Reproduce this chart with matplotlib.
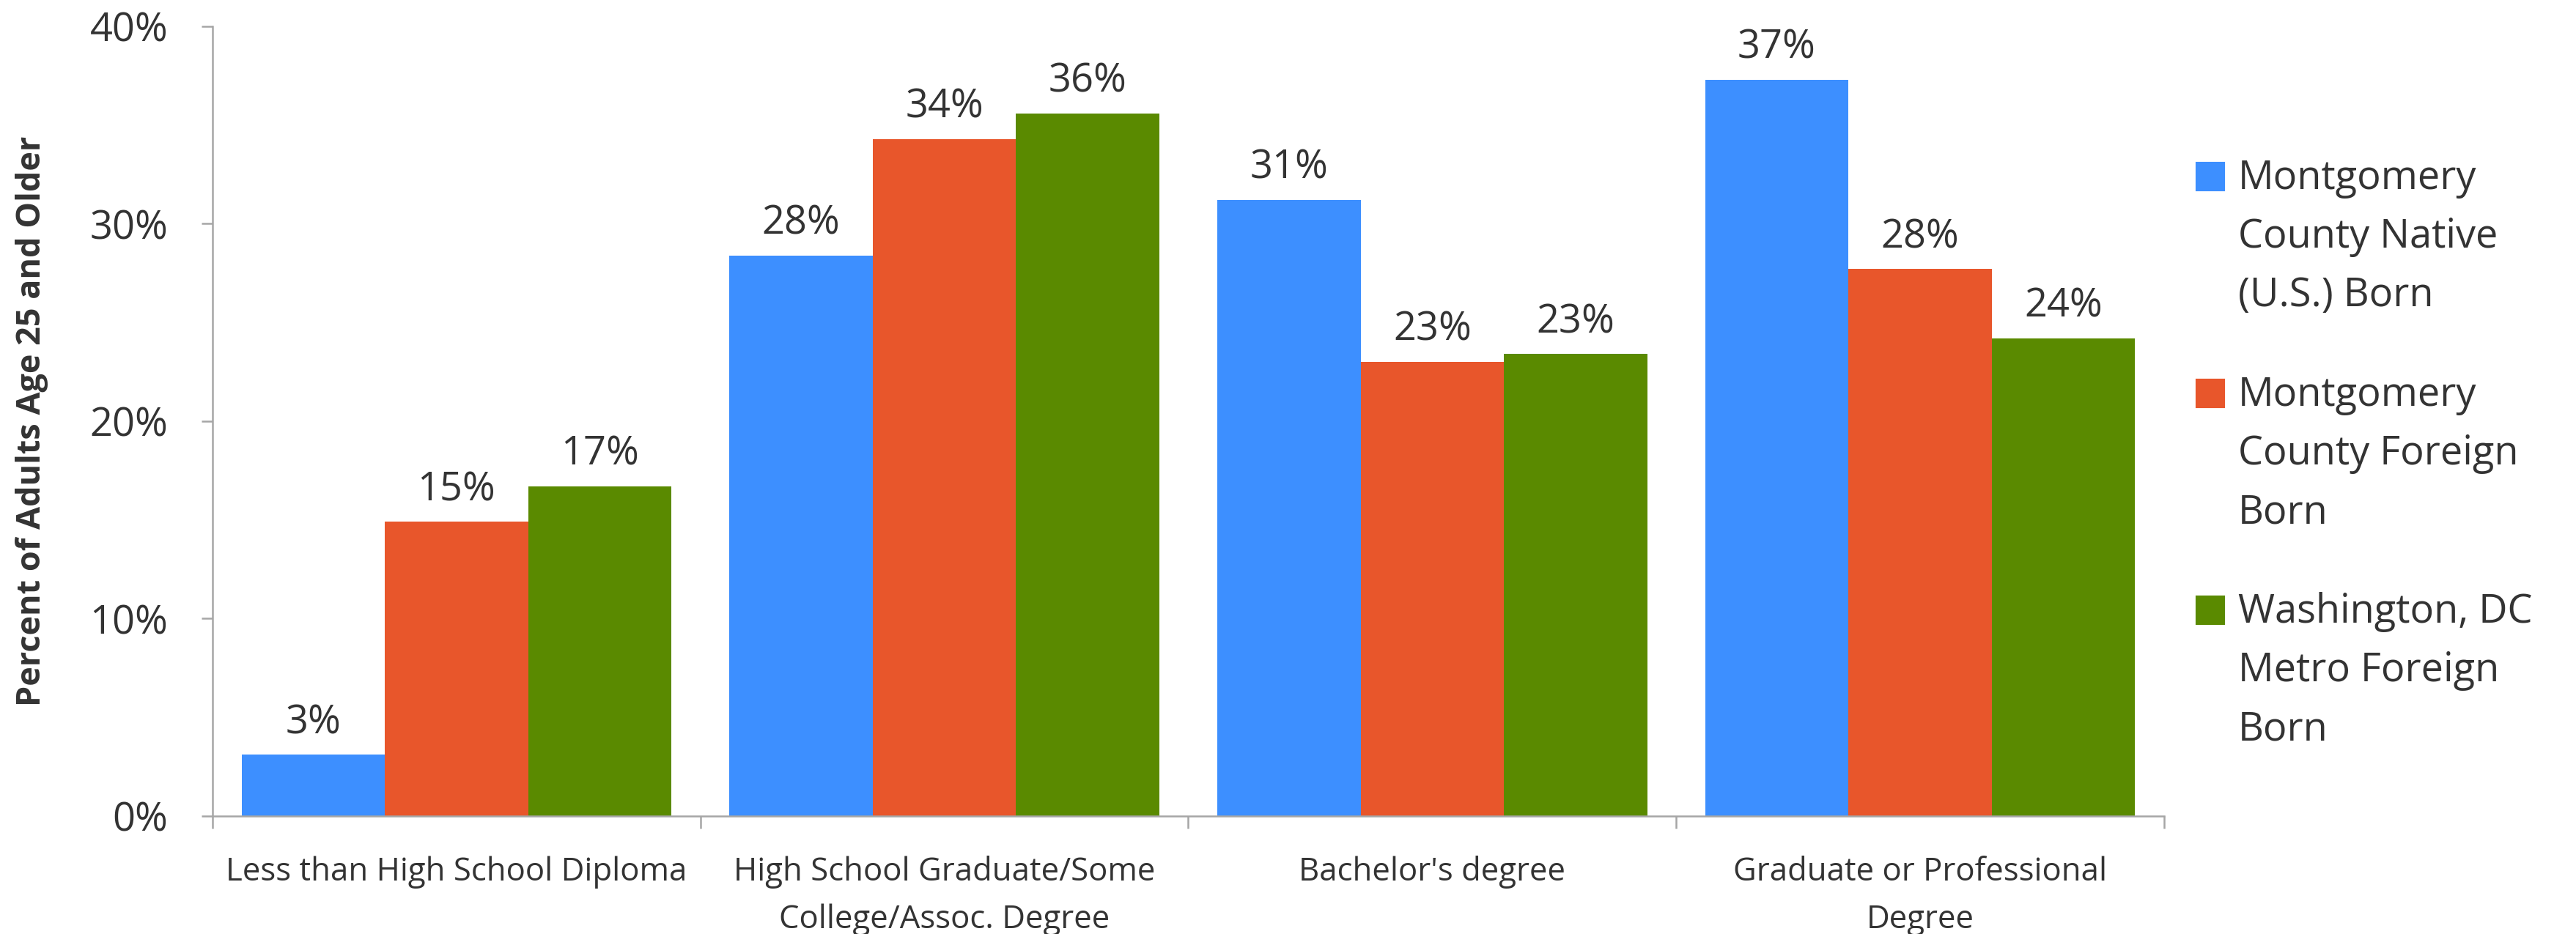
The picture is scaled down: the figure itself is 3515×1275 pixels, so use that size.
import matplotlib
matplotlib.use("Agg")
import matplotlib.pyplot as plt
import numpy as np
from matplotlib.patches import Rectangle

plt.rcParams['font.family'] = ['Open Sans', 'DejaVu Sans']

# data (percent of adults age 25+)
categories = ["Less than High School Diploma",
              "High School Graduate/Some\nCollege/Assoc. Degree",
              "Bachelor's degree",
              "Graduate or Professional\nDegree"]
series_names = ["Montgomery\nCounty Native\n(U.S.) Born",
                "Montgomery\nCounty Foreign\nBorn",
                "Washington, DC\nMetro Foreign\nBorn"]
native_born = [3.1, 28.4, 31.2, 37.3]
mc_foreign_born = [14.9, 34.3, 23.0, 27.7]
dc_foreign_born = [16.7, 35.6, 23.4, 24.2]
yticks = [0, 10, 20, 30, 40]

colors = ['#3D8FFF', '#E8562B', '#5A8A00']
txt = '#333333'
axis_gray = '#A6A6A6'

fig = plt.figure(figsize=(3515 / 300, 1275 / 300), dpi=300)
ax = fig.add_axes([0.0825, 0.1263, 0.7576, 0.8455])

x = np.arange(len(categories))
w = 0.2937
for i, (vals, c) in enumerate(zip([native_born, mc_foreign_born, dc_foreign_born], colors)):
    bars = ax.bar(x + (i - 1) * w, vals, width=w, color=c, linewidth=0)
    for b, v in zip(bars, vals):
        ax.annotate(f"{v:.0f}%", (b.get_x() + b.get_width() / 2, v),
                    xytext=(0, 7), textcoords='offset points',
                    ha='center', va='baseline', fontsize=13, color=txt)

ax.set_xlim(-0.5, len(categories) - 0.5)
ax.set_ylim(0, 40)
ax.set_yticks(yticks)
ax.set_yticklabels([f"{t}%" for t in yticks], fontsize=13, color=txt)
ax.set_xticks(x)
ax.set_xticklabels(categories, fontsize=10.5, color=txt, linespacing=1.62)
ax.set_xticks(np.arange(len(categories) + 1) - 0.5, minor=True)
ax.tick_params(axis='x', which='major', length=0, pad=13)
ax.tick_params(axis='x', which='minor', length=4, width=0.6, color=axis_gray, direction='out')
ax.tick_params(axis='y', length=3.6, width=0.6, color=axis_gray, pad=11)

for s in ['top', 'right']:
    ax.spines[s].set_visible(False)
for s in ['left', 'bottom']:
    ax.spines[s].set_color(axis_gray)
    ax.spines[s].set_linewidth(0.6)

fig.text(44 / 3515, 1 - 575 / 1275, "Percent of Adults Age 25 and Older",
         rotation=90, ha='center', va='center', fontsize=10.8,
         fontweight='bold', color=txt)

# legend, one square per series next to its wrapped name
for i, (name, c) in enumerate(zip(series_names, colors)):
    y_box = 1 - (259 + i * 296) / 1275
    fig.patches.append(Rectangle((2998 / 3515, y_box), 36 / 3515, 36 / 1275,
                                 transform=fig.transFigure, color=c))
    fig.text(3054 / 3515, 1 - (216 + i * 296) / 1275, name, fontsize=13, color=txt,
             va='top', ha='left', linespacing=1.6)

fig.savefig("out.png", dpi=300)
